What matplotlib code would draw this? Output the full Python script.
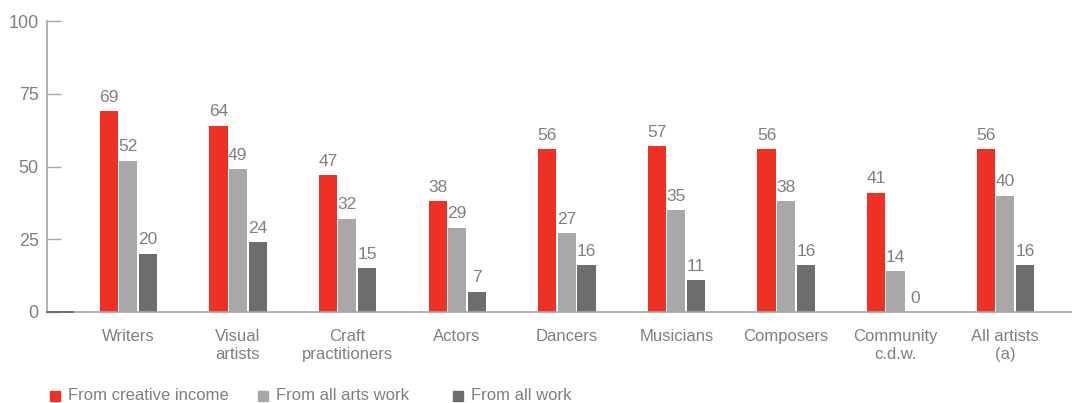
import matplotlib.pyplot as plt
from matplotlib.patches import Rectangle
import numpy as np

plt.rcParams['font.family'] = ['Liberation Sans', 'DejaVu Sans']

# Share of artists earning income, by occupation (%)
occupations = ["Writers", "Visual\nartists", "Craft\npractitioners", "Actors",
               "Dancers", "Musicians", "Composers", "Community\nc.d.w.",
               "All artists\n(a)"]
creative_income = [69, 64, 47, 38, 56, 57, 56, 41, 56]
all_arts_work = [52, 49, 32, 29, 27, 35, 38, 14, 40]
all_work = [20, 24, 15, 7, 16, 11, 16, 0, 16]

series = ["From creative income", "From all arts work", "From all work"]
colors = ["#ee3124", "#a8a8aa", "#6d6d6f"]
text_grey = "#7f7f7f"
axis_grey = "#a6a6a6"

fig = plt.figure(figsize=(10.72, 4.03), dpi=100)
ax = fig.add_axes([47 / 1072, 91 / 403, 1 - 47 / 1072, 291 / 403])

x = np.arange(len(occupations))
width = 0.166
offsets = [-0.176, 0.0, 0.182]

for vals, off, col in zip([creative_income, all_arts_work, all_work], offsets, colors):
    ax.bar(x + off, vals, width=width, color=col, zorder=2)
    for xi, v in zip(x, vals):
        ax.text(xi + off, v + 2.2, str(v), ha="center", va="bottom",
                fontsize=12.5, color=text_grey)

ax.set_xlim(-0.74, 8.61)
ax.set_ylim(0, 100)
ax.set_yticks([0, 25, 50, 75, 100])
ax.tick_params(axis="y", direction="in", length=10, width=1, color=axis_grey,
               labelsize=13, labelcolor=text_grey, pad=6)
ax.set_xticks(x)
ax.set_xticklabels(occupations, linespacing=1.3)
ax.tick_params(axis="x", length=0, labelsize=12, labelcolor=text_grey, pad=12)

for side in ["top", "right"]:
    ax.spines[side].set_visible(False)
for side in ["left", "bottom"]:
    ax.spines[side].set_color(axis_grey)
    ax.spines[side].set_linewidth(1.2)

# darker stub at the start of the baseline
ax.plot([-0.74, -0.5], [0, 0], color="#6d6d6f", lw=1.4, clip_on=False, zorder=3)

# legend row
legend_x = [50, 258, 453]
for lx, label, col in zip(legend_x, series, colors):
    fig.patches.append(Rectangle((lx / 1072, 1 - 401 / 403), 10 / 1072, 10 / 403,
                                 transform=fig.transFigure, color=col))
    fig.text((lx + 18) / 1072, 1 - 396 / 403, label, ha="left", va="center",
             fontsize=12, color=text_grey)

fig.savefig("out.png", dpi=100)
